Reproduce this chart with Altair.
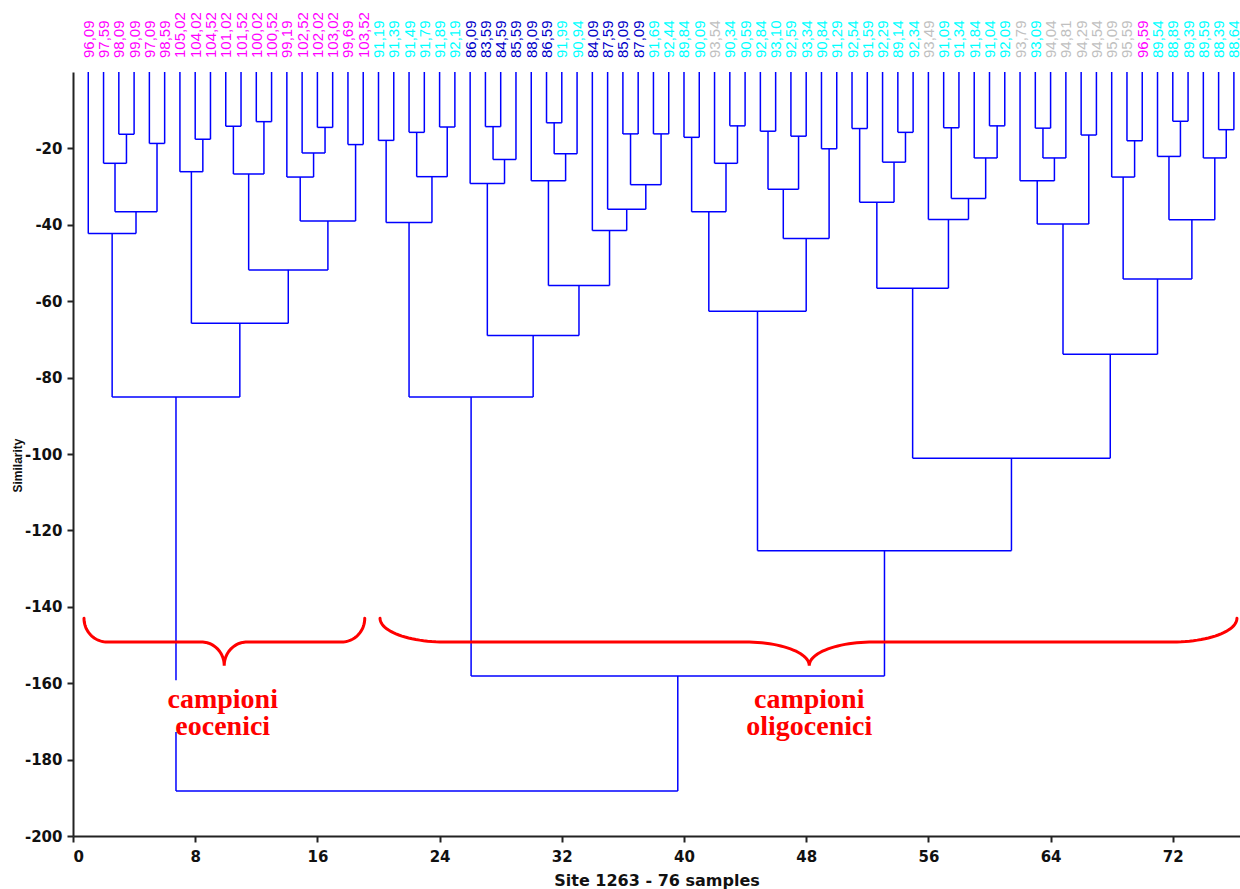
import math

import altair as alt
import pandas as pd

# Sample labels along the top of the dendrogram (left to right)
leaf_labels = [
    "96,09", "97,59", "98,09", "99,09", "97,09", "98,59", "105,02", "104,02", "104,52", "101,02",
    "101,52", "100,02", "100,52", "99,19", "102,52", "102,02", "103,02", "99,69", "103,52",
    "91,19", "91,39", "91,49", "91,79", "91,89", "92,19",
    "86,09", "83,59", "84,59", "85,59", "88,09", "86,59",
    "91,99", "90,94",
    "84,09", "87,59", "85,09", "87,09",
    "91,69", "92,44", "89,84", "90,09",
    "93,54",
    "90,34", "90,59", "92,84", "93,10", "92,59", "93,34", "90,84", "91,29", "92,54", "91,59",
    "92,29", "89,14", "92,34",
    "93,49",
    "91,09", "91,34", "91,84", "91,04", "92,09",
    "93,79",
    "93,09",
    "94,04", "94,81", "94,29", "94,54", "95,09", "95,59",
    "96,59",
    "89,54", "88,89", "89,39", "89,59", "88,39", "88,64",
]

# Label colour class per sample: m = magenta, c = cyan, n = dark blue, g = grey
leaf_groups = (["m"] * 19 + ["c"] * 6 + ["n"] * 6 + ["c"] * 2 + ["n"] * 4 + ["c"] * 4
               + ["g"] + ["c"] * 13 + ["g"] + ["c"] * 5 + ["g"] + ["c"] + ["g"] * 6
               + ["m"] + ["c"] * 6)
group_codes = ["m", "c", "n", "g"]
group_colors = ["#ff00ff", "#00ffff", "#0000c8", "#c0c0c0"]

# Linkage: (a, b, similarity). Positive ids are sample numbers (1-based),
# negative ids point to an earlier merge (-k = k-th merge).
merges = [
    (3, 4, -16.3), (2, -1, -23.9), (5, 6, -18.7), (-2, -3, -36.6), (1, -4, -42.3),
    (8, 9, -17.6), (7, -6, -26.1), (10, 11, -14.2), (12, 13, -13.0), (-8, -9, -26.7),
    (16, 17, -14.5), (15, -11, -21.2), (14, -12, -27.5), (18, 19, -19.0), (-13, -14, -39.0),
    (-10, -15, -51.8), (-7, -16, -65.8), (-5, -17, -85.1),
    (20, 21, -17.9), (22, 23, -15.8), (24, 25, -14.4), (-20, -21, -27.4), (-19, -22, -39.4),
    (27, 28, -14.3), (-24, 29, -22.9), (26, -25, -29.2), (31, 32, -13.3), (-27, 33, -21.4),
    (30, -28, -28.5), (36, 37, -16.2), (38, 39, -16.2), (-30, -31, -29.5), (35, -32, -35.9),
    (34, -33, -41.5), (-29, -34, -55.9), (-26, -35, -69.0), (-23, -36, -85.1),
    (40, 41, -17.1), (43, 44, -14.1), (42, -39, -23.9), (-38, -40, -36.6), (45, 46, -15.5),
    (47, 48, -16.8), (-42, -43, -30.7), (49, 50, -20.1), (-44, -45, -43.6), (-41, -46, -62.6),
    (51, 52, -14.8), (54, 55, -15.8), (53, -49, -23.6), (-48, -50, -34.1), (57, 58, -14.6),
    (60, 61, -14.1), (59, -53, -22.5), (-52, -54, -33.1), (56, -55, -38.6), (-51, -56, -56.6),
    (63, 64, -14.7), (-58, 65, -22.5), (62, -59, -28.5), (66, 67, -16.5), (-60, -61, -39.8),
    (69, 70, -18.0), (68, -63, -27.5), (72, 73, -12.9), (71, -65, -22.1), (75, 76, -15.1),
    (74, -67, -22.5), (-66, -68, -38.7), (-64, -69, -54.2), (-62, -70, -73.9),
    (-57, -71, -101.1), (-47, -72, -125.3), (-37, -73, -158.1), (-18, -74, -188.2),
]

# Group annotations (curly braces and captions)
brace_from = [0.72, 20.1]
brace_to = [19.1, 76.2]
brace_tip = [9.9, 48.2]
brace_curl = [1.5, 4.2]
brace_end_y = -143.0
brace_mid_y = -149.2
brace_tip_y = -155.4

caption_lines = ["campioni", "eocenici", "campioni", "oligocenici"]
caption_x = [9.8, 9.8, 48.2, 48.2]
caption_y = [-166.5, -173.6, -166.5, -173.6]
caption_box_x = [(6.2, 13.6)]
caption_box_y = (-159.2, -172.8)

X_MAX = 76.4

# ---- dendrogram segments (standard U-shaped links) ----
node_x, node_h = [], []


def position(ref):
    if ref > 0:
        return float(ref), 0.0
    return node_x[-ref - 1], node_h[-ref - 1]


segments = []
for a, b, h in merges:
    xa, ha = position(a)
    xb, hb = position(b)
    segments.append(dict(x=xa, x2=xa, y=ha, y2=h))
    segments.append(dict(x=xb, x2=xb, y=hb, y2=h))
    segments.append(dict(x=xa, x2=xb, y=h, y2=h))
    node_x.append((xa + xb) / 2)
    node_h.append(h)
seg_df = pd.DataFrame(segments)

leaf_df = pd.DataFrame({
    "pos": list(range(1, len(leaf_labels) + 1)),
    "label": leaf_labels,
    "group": leaf_groups,
})


# ---- curly brace outlines ----
def brace_points(x0, x1, tip, c, n=24):
    pts = []
    dy_end = brace_mid_y - brace_end_y
    dy_tip = brace_tip_y - brace_mid_y
    # left end curl
    for i in range(n + 1):
        t = math.pi / 2 * i / n
        pts.append((x0 + c * (1 - math.cos(t)), brace_end_y + dy_end * math.sin(t)))
    # into the tip from the left
    for i in range(n + 1):
        t = math.pi / 2 * i / n
        pts.append((tip - c + c * math.sin(t), brace_mid_y + dy_tip * (1 - math.cos(t))))
    # out of the tip to the right
    for i in range(n + 1):
        t = math.pi / 2 * (n - i) / n
        pts.append((tip + c - c * math.sin(t), brace_mid_y + dy_tip * (1 - math.cos(t))))
    # right end curl
    for i in range(n + 1):
        t = math.pi / 2 * (n - i) / n
        pts.append((x1 - c * (1 - math.cos(t)), brace_end_y + dy_end * math.sin(t)))
    return pts


brace_rows = []
for k in range(len(brace_from)):
    for j, (bx, by) in enumerate(brace_points(brace_from[k], brace_to[k], brace_tip[k], brace_curl[k])):
        brace_rows.append(dict(brace=k, order=j, x=bx, y=by))
brace_df = pd.DataFrame(brace_rows)

caption_df = pd.DataFrame({"text": caption_lines, "x": caption_x, "y": caption_y})
box_df = pd.DataFrame({
    "x": [b[0] for b in caption_box_x], "x2": [b[1] for b in caption_box_x],
    "y": [caption_box_y[0]] * len(caption_box_x), "y2": [caption_box_y[1]] * len(caption_box_x),
})

x_scale = alt.Scale(domain=[0, X_MAX], nice=False, zero=False)
y_scale = alt.Scale(domain=[-200, 0], nice=False, zero=False)

x_axis = alt.Axis(
    title="Site 1263 - 76 samples", values=list(range(0, 73, 8)), grid=False,
    labelFont="DejaVu Sans", labelFontWeight="bold", labelFontSize=15, labelColor="#111",
    labelPadding=7, tickSize=6, tickWidth=2, tickColor="#222", domainColor="#222", domainWidth=2,
    titleFont="DejaVu Sans", titleFontWeight="bold", titleFontSize=16, titleColor="#111",
    titleY=49, titleBaseline="alphabetic",
)
y_axis = alt.Axis(
    title="Similarity", values=list(range(-200, 0, 20)), grid=False,
    labelExpr="'-' + abs(datum.value)",
    labelFont="DejaVu Sans", labelFontWeight="bold", labelFontSize=15, labelColor="#111",
    labelPadding=5, tickSize=6, tickWidth=2, tickColor="#222", domainColor="#222", domainWidth=2,
    titleFont="Liberation Sans", titleFontWeight="bold", titleFontSize=12, titleColor="#111",
    titleX=-56, titleY=393, titleAngle=270, titleAlign="center", titleBaseline="middle",
)

links = alt.Chart(seg_df).mark_rule(color="#0000ff", strokeWidth=1.5).encode(
    x=alt.X("x:Q", scale=x_scale, axis=x_axis),
    x2="x2:Q",
    y=alt.Y("y:Q", scale=y_scale, axis=y_axis),
    y2="y2:Q",
)

labels = alt.Chart(leaf_df).mark_text(
    angle=270, align="left", baseline="middle", font="Liberation Sans", fontSize=15, dx=0, dy=0.5,
).encode(
    x=alt.X("pos:Q", scale=x_scale),
    y=alt.value(-14),
    text="label:N",
    color=alt.Color("group:N", scale=alt.Scale(domain=group_codes, range=group_colors), legend=None),
)

boxes = alt.Chart(box_df).mark_rect(color="white").encode(
    x=alt.X("x:Q", scale=x_scale), x2="x2:Q",
    y=alt.Y("y:Q", scale=y_scale), y2="y2:Q",
)

captions = alt.Chart(caption_df).mark_text(
    font="Liberation Serif", fontSize=28, fontWeight="bold", color="#ff0000",
    align="center", baseline="alphabetic",
).encode(
    x=alt.X("x:Q", scale=x_scale),
    y=alt.Y("y:Q", scale=y_scale),
    text="text:N",
)

braces = alt.Chart(brace_df).mark_line(color="#ff0000", strokeWidth=3, strokeCap="round").encode(
    x=alt.X("x:Q", scale=x_scale),
    y=alt.Y("y:Q", scale=y_scale),
    detail="brace:N",
    order="order:Q",
)

chart = alt.layer(links, labels, boxes, captions, braces).properties(
    width=1167,
    height=764,
    autosize=alt.AutoSizeParams(type="none"),
    padding={"left": 73, "top": 72, "right": 0, "bottom": 53},
    background="white",
).configure_view(stroke=None)

chart.save("out.html", embed_options={"renderer": "svg", "actions": False})
